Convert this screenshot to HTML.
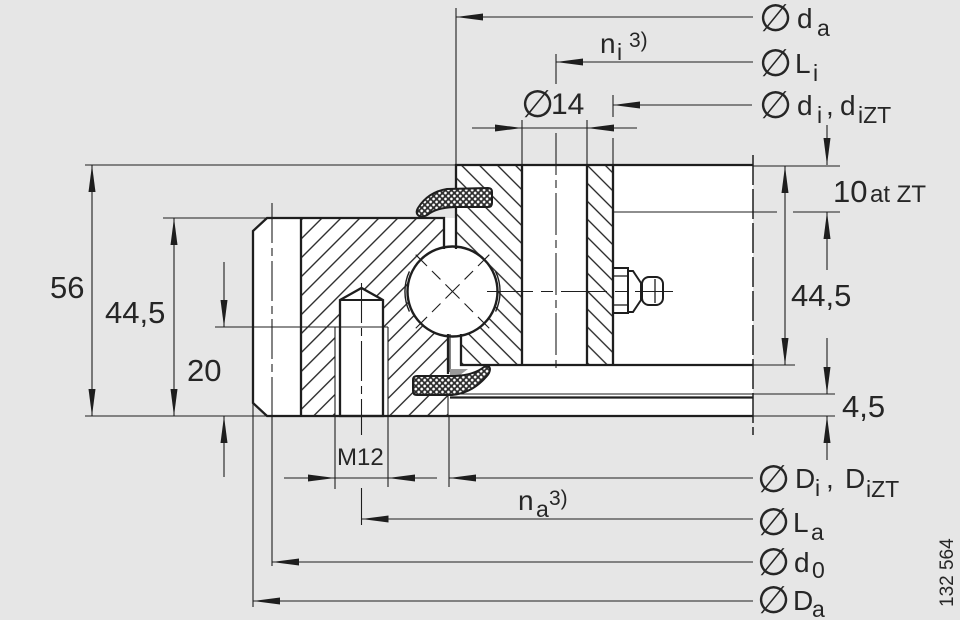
<!DOCTYPE html>
<html><head><meta charset="utf-8"><style>
html,body{margin:0;padding:0;background:#e6e6e6;}
svg{display:block;}
text{font-family:"Liberation Sans",Arial,sans-serif;fill:#262626;}
.sym{font-family:"DejaVu Sans","Liberation Sans",sans-serif;}
</style></head><body>
<svg xmlns="http://www.w3.org/2000/svg" width="960" height="620" viewBox="0 0 960 620">
<defs>
<pattern id="hA" width="13.4" height="13.4" patternUnits="userSpaceOnUse" patternTransform="rotate(45)">
<line x1="6.7" y1="-1" x2="6.7" y2="14.4" stroke="#1e1e1e" stroke-width="1.3"/>
</pattern>
<pattern id="hB" width="12.7" height="12.7" patternUnits="userSpaceOnUse" patternTransform="rotate(-45)">
<line x1="6.3" y1="-1" x2="6.3" y2="13.7" stroke="#1e1e1e" stroke-width="1.3"/>
</pattern>
<pattern id="kn" width="4.2" height="4.2" patternUnits="userSpaceOnUse" patternTransform="rotate(45)">
<rect width="4.2" height="4.2" fill="#2e2e2e"/>
<circle cx="2.1" cy="2.1" r="1.35" fill="#fff"/>
</pattern>
</defs>
<rect width="960" height="620" fill="#e6e6e6"/>

<!-- white body -->
<path d="M253,231 L267,218 L456,218 L456,165 L753,165 L753,416 L267,416 L253,403 Z" fill="#fff"/>
<!-- hatches -->
<path d="M301,218 L444,218 L444,300 L448,300 L448,416 L301,416 Z" fill="url(#hA)"/>
<path d="M456,165 L522,165 L522,365 L461,365 L461,300 L456,300 Z" fill="url(#hB)"/>
<rect x="587" y="165" width="26" height="200" fill="url(#hB)"/>
<!-- M12 hole -->
<rect x="335" y="327" width="53" height="89" fill="#fff"/>
<path d="M340,416 L340,300 L361.5,288 L383,300 L383,416 Z" fill="#fff" stroke="#1e1e1e" stroke-width="2.3"/>
<line x1="340" y1="300" x2="383" y2="300" stroke="#1e1e1e" stroke-width="2"/>
<g stroke="#1e1e1e" stroke-width="1.1">
<line x1="335" y1="327" x2="335" y2="489"/>
<line x1="388" y1="327" x2="388" y2="487"/>
</g>

<!-- ball -->
<circle cx="452.5" cy="291.5" r="45" fill="#fff" stroke="#1e1e1e" stroke-width="2.4"/>
<g fill="none" stroke="#1e1e1e" stroke-width="1.4">
<path d="M409.4,271.4 A47.5,47.5 0 0 0 409.4,311.6"/>
<path d="M495.6,271.4 A47.5,47.5 0 0 1 495.6,311.6"/>
</g>
<g stroke="#1e1e1e" stroke-width="1.1" stroke-dasharray="16,7,12,7,20,7,12,7,16">
<line x1="415.7" y1="254.7" x2="489.3" y2="328.3"/>
<line x1="489.3" y1="254.7" x2="415.7" y2="328.3"/>
</g>

<!-- grease nipple -->
<g fill="#fff" stroke="#1e1e1e" stroke-width="2">
<rect x="613" y="268" width="15" height="45"/>
<path d="M628,271 L633,271 L641,283 L641,300 L633,312 L628,312 Z"/>
<rect x="642" y="277" width="21" height="28" rx="7"/>
</g>
<g stroke="#1e1e1e" stroke-width="1.3">
<line x1="613" y1="276" x2="628" y2="276"/>
<line x1="613" y1="305" x2="628" y2="305"/>
<line x1="655" y1="279" x2="655" y2="303"/>
</g>

<!-- outlines thick -->
<g fill="none" stroke="#1e1e1e" stroke-width="2.3">
<polyline points="444,249 444,218 267,218 253,231 253,403 267,416 753,416"/>
<line x1="301" y1="218" x2="301" y2="416"/>
<line x1="448" y1="334" x2="448" y2="374"/>
<polyline points="456,249 456,165 753,165"/>
<line x1="522" y1="165" x2="522" y2="365"/>
<line x1="587" y1="165" x2="587" y2="365"/>
<line x1="613" y1="165" x2="613" y2="365"/>
<polyline points="461,334 461,365 753,365"/>
<line x1="450" y1="397.5" x2="753" y2="397.5"/>
</g>
<g stroke="#1e1e1e" stroke-width="1.1">
<line x1="450" y1="334" x2="450" y2="372"/>
<line x1="448" y1="394" x2="448" y2="416"/>
<line x1="450" y1="394" x2="753" y2="394"/>
<line x1="613" y1="212" x2="753" y2="212"/>
</g>

<!-- seals -->
<path d="M447,189 L488,188 Q492,188 492,192 L492,203 Q492,207 488,207 L457,207 Q440,207 430,213 Q424,218 419,216 Q415,213 418,208 Q428,192 447,189 Z" fill="url(#kn)" stroke="#1e1e1e" stroke-width="2"/>
<path d="M450,369 L468,369 L460,375 L450,376 Z" fill="#9a9a9a"/>
<path d="M417,376 L455,376 Q474,375 484,367 Q489,364 490,369 Q490,373 486,377 Q472,393 452,395 L417,395 Q413,395 413,391 L413,380 Q413,376 417,376 Z" fill="url(#kn)" stroke="#1e1e1e" stroke-width="2"/>

<!-- centre lines -->
<g stroke="#1e1e1e" stroke-width="1.1" fill="none">
<line x1="487" y1="291.5" x2="673" y2="291.5" stroke-dasharray="46,8,12,8"/>
<line x1="556" y1="133" x2="556" y2="373" stroke-dasharray="42,5,8,5"/>
<line x1="272" y1="203" x2="272" y2="416" stroke-dasharray="40,5,8,5"/>
<line x1="361.5" y1="283" x2="361.5" y2="435" stroke-dasharray="40,5,8,5"/>
<line x1="753" y1="155" x2="753" y2="435" stroke-dasharray="30,4" stroke-width="1.5"/>
</g>

<!-- dimension / extension lines -->
<g stroke="#1e1e1e" stroke-width="1.1">
<line x1="85" y1="165" x2="456" y2="165"/>
<line x1="163" y1="218" x2="267" y2="218"/>
<line x1="85" y1="416" x2="267" y2="416"/>
<line x1="215" y1="327" x2="388" y2="327"/>
<line x1="92" y1="165" x2="92" y2="416"/>
<line x1="174" y1="218" x2="174" y2="416"/>
<line x1="224" y1="262" x2="224" y2="327"/>
<line x1="224" y1="416" x2="224" y2="477"/>
<line x1="456" y1="8" x2="456" y2="165"/>
<line x1="456" y1="17" x2="753" y2="17"/>
<line x1="556" y1="54" x2="556" y2="84"/>
<line x1="556" y1="62" x2="753" y2="62"/>
<line x1="613" y1="95" x2="613" y2="117"/>
<line x1="613" y1="138" x2="613" y2="165"/>
<line x1="613" y1="105" x2="752" y2="105"/>
<line x1="472" y1="128" x2="637" y2="128"/>
<line x1="522" y1="120" x2="522" y2="165"/>
<line x1="587" y1="120" x2="587" y2="165"/>
<line x1="753" y1="166" x2="840" y2="166"/>
<line x1="753" y1="212" x2="777" y2="212"/>
<line x1="793" y1="212" x2="840" y2="212"/>
<line x1="753" y1="365" x2="795" y2="365"/>
<line x1="753" y1="394" x2="835" y2="394"/>
<line x1="753" y1="416" x2="835" y2="416"/>
<line x1="785" y1="166" x2="785" y2="365"/>
<line x1="827" y1="125" x2="827" y2="165"/>
<line x1="827" y1="212" x2="827" y2="270"/>
<line x1="827" y1="338" x2="827" y2="394"/>
<line x1="827" y1="416" x2="827" y2="460"/>
<line x1="253" y1="403" x2="253" y2="607"/>
<line x1="272" y1="416" x2="272" y2="566"/>
<line x1="361.5" y1="488" x2="361.5" y2="525"/>
<line x1="449" y1="416" x2="449" y2="487"/>
<line x1="284" y1="478" x2="437" y2="478"/>
<line x1="449" y1="478" x2="753" y2="478"/>
<line x1="361.5" y1="519" x2="753" y2="519"/>
<line x1="272" y1="562" x2="753" y2="562"/>
<line x1="253" y1="601" x2="753" y2="601"/>
</g>

<!-- arrowheads -->
<g fill="#1e1e1e">
<polygon points="456,17 483,13.5 483,20.5"/>
<polygon points="556,62 583,58.5 583,65.5"/>
<polygon points="613,105 640,101.5 640,108.5"/>
<polygon points="522,128 495,124.5 495,131.5"/>
<polygon points="587,128 614,124.5 614,131.5"/>
<polygon points="92,165 88.5,192 95.5,192"/>
<polygon points="92,416 88.5,389 95.5,389"/>
<polygon points="174,218 170.5,245 177.5,245"/>
<polygon points="174,416 170.5,389 177.5,389"/>
<polygon points="224,327 220.5,300 227.5,300"/>
<polygon points="224,416 220.5,443 227.5,443"/>
<polygon points="827,165 823.5,138 830.5,138"/>
<polygon points="827,212 823.5,239 830.5,239"/>
<polygon points="785,166 781.5,193 788.5,193"/>
<polygon points="785,365 781.5,338 788.5,338"/>
<polygon points="827,394 823.5,367 830.5,367"/>
<polygon points="827,416 823.5,443 830.5,443"/>
<polygon points="335,478 308,474.5 308,481.5"/>
<polygon points="388,478 415,474.5 415,481.5"/>
<polygon points="449,478 476,474.5 476,481.5"/>
<polygon points="361.5,519 388.5,515.5 388.5,522.5"/>
<polygon points="272,562 299,558.5 299,565.5"/>
<polygon points="253,601 280,597.5 280,604.5"/>
</g>

<!-- texts -->
<g font-size="31">
<text x="50" y="298">56</text>
<text x="105" y="323">44,5</text>
<text x="187" y="381">20</text>
<text x="791" y="306">44,5</text>
<text x="842" y="417">4,5</text>
<text x="833" y="202">10</text>
</g>
<text x="870" y="202" font-size="24">at ZT</text>
<text x="337" y="465" font-size="24">M12</text>

<text x="521" y="117" font-size="38" class="sym">∅</text>
<text x="551" y="114" font-size="30">14</text>

<text x="600" y="53" font-size="28">n</text>
<text x="617" y="60" font-size="23">i</text>
<text x="629" y="47" font-size="21">3)</text>

<text x="518" y="510" font-size="28">n</text>
<text x="536" y="517" font-size="23">a</text>
<text x="549" y="505" font-size="21">3)</text>

<g font-size="38" class="sym">
<text x="759" y="31">∅</text>
<text x="759" y="76">∅</text>
<text x="759" y="118">∅</text>
<text x="757" y="492">∅</text>
<text x="757" y="535">∅</text>
<text x="757" y="575">∅</text>
<text x="757" y="613">∅</text>
</g>
<g font-size="28">
<text x="797" y="28">d</text>
<text x="795" y="73">L</text>
<text x="797" y="115">d</text>
<text x="826" y="115">,</text>
<text x="840" y="115">d</text>
<text x="795" y="488">D</text>
<text x="826" y="488">,</text>
<text x="845" y="488">D</text>
<text x="793" y="532">L</text>
<text x="794" y="572">d</text>
<text x="793" y="610">D</text>
</g>
<g font-size="23">
<text x="817" y="36">a</text>
<text x="813" y="81">i</text>
<text x="817" y="123">i</text>
<text x="858" y="123">iZT</text>
<text x="815" y="496">i</text>
<text x="866" y="497">iZT</text>
<text x="811" y="540">a</text>
<text x="812" y="578">0</text>
<text x="812" y="617">a</text>
</g>

<text x="0" y="0" font-size="19" transform="translate(953,607) rotate(-90)">132 564</text>
</svg>
</body></html>
